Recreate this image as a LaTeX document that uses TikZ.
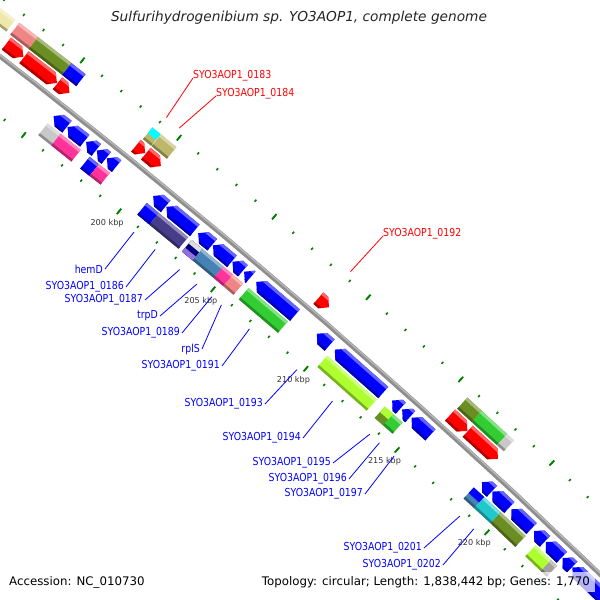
\documentclass[tikz,border=0pt]{standalone}
\usepackage{fontspec}
\setmainfont{DejaVu Sans}
\newfontfamily\genefont[FakeStretch=0.85]{DejaVu Sans}

\definecolor{cgred}{HTML}{FF0000}
\definecolor{cgblue}{HTML}{0000FF}
\definecolor{cgpink}{HTML}{FF3399}
\definecolor{cgsalmon}{HTML}{F08585}
\definecolor{cgolive}{HTML}{6B8E23}
\definecolor{cgkhaki}{HTML}{BDB76B}
\definecolor{cgyellow}{HTML}{EEE8AA}
\definecolor{cgsilver}{HTML}{C8C8C8}
\definecolor{cgslate}{HTML}{483D8B}
\definecolor{cgnavy}{HTML}{000080}
\definecolor{cgmpurple}{HTML}{9370DB}
\definecolor{cgsteel}{HTML}{4682B4}
\definecolor{cglime}{HTML}{32CD32}
\definecolor{cggy}{HTML}{ADFF2F}
\definecolor{cgcyan}{HTML}{00FFFF}
\definecolor{cgturq}{HTML}{20C8CC}
\definecolor{cggray}{HTML}{A0A0A0}
\definecolor{cgtick}{HTML}{007F00}

% point at position k (kbp) and offset d (px) from the backbone
\newcommand{\gpos}[2]{({(#1)*0.195818-90}:{7192.5+(#2)})}

\newcommand{\cogbox}[5]{%
  \fill[#5] \gpos{#1}{#3} -- \gpos{#2}{#3} -- \gpos{#2}{#4} -- \gpos{#1}{#4} -- cycle;
  \fill[#5!60!white] \gpos{#1}{#4-3} -- \gpos{#2}{#4-3} -- \gpos{#2}{#4} -- \gpos{#1}{#4} -- cycle;
  \fill[#5!70!black] \gpos{#1}{#3} -- \gpos{#2}{#3} -- \gpos{#2}{#3+2.5} -- \gpos{#1}{#3+2.5} -- cycle;}

\newcommand{\cogpart}[5]{%
  \fill[#5] \gpos{#1}{#3} -- \gpos{#2}{#3} -- \gpos{#2}{#4} -- \gpos{#1}{#4} -- cycle;}

\newcommand{\fwdgene}[2]{%
  \pgfmathsetmacro{\kn}{max(#1,#2-0.3)}%
  \pgfmathsetmacro{\ka}{\kn+0.4*(#2-\kn)}%
  \pgfmathsetmacro{\kb}{\kn+0.33*(#2-\kn)}%
  \fill[cgred] \gpos{#1}{6.5} -- \gpos{\kn}{6.5} -- \gpos{#2}{14} -- \gpos{\kn}{21.5} -- \gpos{#1}{21.5} -- cycle;
  \fill[cgred!60!white] \gpos{#1}{18.5} -- \gpos{\ka}{18.5} -- \gpos{\kn}{21.5} -- \gpos{#1}{21.5} -- cycle;
  \fill[cgred!70!black] \gpos{#1}{6.5} -- \gpos{\kn}{6.5} -- \gpos{\kb}{9} -- \gpos{#1}{9} -- cycle;}

\newcommand{\revgene}[2]{%
  \pgfmathsetmacro{\kn}{min(#2,#1+0.3)}%
  \pgfmathsetmacro{\ka}{\kn-0.4*(\kn-#1)}%
  \pgfmathsetmacro{\kb}{\kn-0.33*(\kn-#1)}%
  \fill[cgblue] \gpos{#2}{-21.5} -- \gpos{\kn}{-21.5} -- \gpos{#1}{-14} -- \gpos{\kn}{-6.5} -- \gpos{#2}{-6.5} -- cycle;
  \fill[cgblue!60!white] \gpos{#2}{-9.5} -- \gpos{\ka}{-9.5} -- \gpos{\kn}{-6.5} -- \gpos{#2}{-6.5} -- cycle;
  \fill[cgblue!70!black] \gpos{#2}{-21.5} -- \gpos{\kn}{-21.5} -- \gpos{\kb}{-19} -- \gpos{#2}{-19} -- cycle;}

\tikzset{
  backbone/.style={line width=4.6pt, draw={rgb,255:red,142;green,142;blue,142}},
  backbonehi/.style={line width=1.3pt, draw={rgb,255:red,185;green,185;blue,185}},
  dottick/.style={draw=cgtick, line width=1.6pt},
  kbptick/.style={draw=cgtick, line width=1.8pt},
  kbplabel/.style={font=\fontsize{8.1}{9}\selectfont, text=black!80, xshift=-2.5pt},
  revlabel/.style={font=\genefont\fontsize{11}{12}\selectfont, text=cgblue, anchor=east, inner xsep=2pt, inner ysep=0pt},
  fwdlabel/.style={font=\genefont\fontsize{11}{12}\selectfont, text=cgred, anchor=base west, inner sep=0pt},
  revline/.style={draw=cgblue, line width=0.8pt},
  fwdline/.style={draw=cgred, line width=0.8pt},
  footer/.style={font=\fontsize{11.8}{13}\selectfont, fill=white, fill opacity=0.7, text opacity=1, inner xsep=5pt, inner ysep=4pt}
}

\begin{document}
\begin{tikzpicture}[x=1pt,y=-1pt]
\useasboundingbox[fill=white] (0,0) rectangle (600,600);
\clip (0,0) rectangle (600,600);

\begin{scope}[shift={(-4393,5751)}]
% outer slot 2
\cogbox{188.5}{191.85}{23.5}{38.5}{cgyellow}
\cogbox{192.05}{193.0}{23.5}{38.5}{cgsalmon}
\cogbox{193.0}{194.72}{23.5}{38.5}{cgolive}
\cogbox{194.72}{195.45}{23.5}{38.5}{cgblue}
\cogbox{198.9}{199.33}{23.5}{38.5}{cgkhaki}
\cogpart{198.9}{199.33}{31}{38.5}{cgcyan}
\cogbox{199.35}{200.16}{23.5}{38.5}{cgkhaki}
\cogbox{215.69}{216.49}{23.5}{38.5}{cgolive}
\cogbox{216.49}{217.88}{23.5}{38.5}{cglime}
\cogbox{217.88}{218.25}{23.5}{38.5}{cgsilver}

% outer slot 1
\fwdgene{192.15}{193.02}
\fwdgene{193.05}{194.75}
\fwdgene{194.78}{195.4}
\fwdgene{198.85}{199.33}
\fwdgene{199.36}{200.16}
\fwdgene{208.5}{209.07}
\fwdgene{215.65}{216.6}
\fwdgene{216.62}{218.28}

% inner slot 1
\revgene{195.48}{196.17}
\revgene{196.2}{197.1}
\revgene{197.17}{197.7}
\revgene{197.73}{198.22}
\revgene{198.25}{198.76}
\revgene{200.68}{201.34}
\revgene{201.38}{202.88}
\revgene{203.06}{203.8}
\revgene{203.84}{204.85}
\revgene{204.88}{205.44}
\revgene{205.5}{205.85}
\revgene{206.15}{208.23}
\revgene{209.4}{210.1}
\revgene{210.38}{213.02}
\revgene{213.5}{213.97}
\revgene{214.05}{214.49}
\revgene{214.56}{215.6}
\revgene{218.45}{219.0}
\revgene{219.02}{219.97}
\revgene{220.08}{221.22}
\revgene{221.36}{221.97}
\revgene{222.02}{222.92}
\revgene{222.96}{223.5}
\revgene{223.52}{225.6}

% inner slot 2
\cogbox{195.47}{196.15}{-38.5}{-23.5}{cgsilver}
\cogbox{196.15}{197.2}{-38.5}{-23.5}{cgpink}
\cogbox{197.66}{198.15}{-38.5}{-23.5}{cgblue}
\cogbox{198.15}{198.72}{-38.5}{-23.5}{cgpink}
\cogbox{200.66}{201.3}{-38.5}{-23.5}{cgblue}
\cogbox{201.3}{202.85}{-38.5}{-23.5}{cgslate}
\cogbox{203.03}{203.6}{-38.5}{-23.5}{cgnavy}
\cogpart{203.03}{203.6}{-28}{-23.5}{cgsilver!60!white}
\cogpart{203.03}{203.6}{-38.5}{-33.5}{cgmpurple}
\cogbox{203.6}{204.72}{-38.5}{-23.5}{cgsteel}
\cogbox{204.72}{205.24}{-38.5}{-23.5}{cgpink}
\cogbox{205.24}{205.78}{-38.5}{-23.5}{cgsalmon}
\cogbox{206.07}{208.18}{-38.5}{-23.5}{cglime}
\cogbox{210.31}{213.0}{-38.5}{-23.5}{cggy}
\cogbox{213.45}{214.42}{-38.5}{-23.5}{cglime}
\cogpart{213.45}{213.9}{-31}{-23.5}{cggy}
\cogpart{213.45}{213.9}{-38.5}{-31}{cgolive}
\cogbox{218.35}{218.94}{-38.5}{-23.5}{cgsteel}
\cogpart{218.35}{218.94}{-31}{-23.5}{cgblue}
\cogbox{218.94}{219.85}{-38.5}{-23.5}{cgturq}
\cogbox{219.85}{221.25}{-38.5}{-23.5}{cgolive}
\cogbox{221.81}{222.68}{-38.5}{-23.5}{cggy}
\cogbox{222.68}{223.02}{-38.5}{-23.5}{cggray}

% backbone and ticks
\draw[backbone] plot[domain=186:230,samples=89] ({\x*0.195818-90}:7192.5);
\draw[backbonehi] plot[domain=186:230,samples=89] ({\x*0.195818-90}:7193.6);
\foreach \k in {188,...,229} {
  \draw[dottick] \gpos{\k}{46.2} -- \gpos{\k}{48.8};
  \draw[dottick] \gpos{\k}{-48.8} -- \gpos{\k}{-46.2};
}
\foreach \k in {190,195,...,225} {
  \draw[kbptick] \gpos{\k}{44} -- \gpos{\k}{51};
  \draw[kbptick] \gpos{\k}{-51} -- \gpos{\k}{-44};
}
\foreach \k in {200,205,...,220}
  \node[kbplabel] (k\k) at ({\k*0.195818-90}:7130) {\k\ kbp};

% label anchors on the genes
\path \gpos{199.09}{55} coordinate (g0183);
\path \gpos{199.76}{55} coordinate (g0184);
\path \gpos{208.78}{55} coordinate (g0192);
\path \gpos{201.01}{-54} coordinate (ghemD);
\path \gpos{202.13}{-54} coordinate (g0186);
\path \gpos{203.43}{-54} coordinate (g0187);
\path \gpos{204.35}{-54} coordinate (gtrpD);
\path \gpos{205.16}{-54} coordinate (g0189);
\path \gpos{205.67}{-54} coordinate (grplS);
\path \gpos{207.19}{-54} coordinate (g0191);
\path \gpos{209.75}{-54} coordinate (g0193);
\path \gpos{211.7}{-54} coordinate (g0194);
\path \gpos{213.74}{-54} coordinate (g0195);
\path \gpos{214.27}{-54} coordinate (g0196);
\path \gpos{215.08}{-54} coordinate (g0197);
\path \gpos{218.73}{-54} coordinate (g0201);
\path \gpos{219.5}{-54} coordinate (g0202);
\end{scope}

\node[fwdlabel] (l0183) at (193,78) {SYO3AOP1\_0183};
\node[fwdlabel] (l0184) at (216,96) {SYO3AOP1\_0184};
\node[fwdlabel] (l0192) at (383,236) {SYO3AOP1\_0192};
\draw[fwdline] (g0183) -- (l0183.base west);
\draw[fwdline] (g0184) -- (l0184.base west);
\draw[fwdline] (g0192) -- (l0192.base west);

\node[revlabel] (lhemD) at (105,269) {hemD};
\node[revlabel] (l0186) at (126,287) {SYO3AOP1\_0186};
\node[revlabel] (l0187) at (145,300) {SYO3AOP1\_0187};
\node[revlabel] (ltrpD) at (160,316) {trpD};
\node[revlabel] (l0189) at (182,333) {SYO3AOP1\_0189};
\node[revlabel] (lrplS) at (202,349) {rplS};
\node[revlabel] (l0191) at (222,366) {SYO3AOP1\_0191};
\node[revlabel] (l0193) at (265,404) {SYO3AOP1\_0193};
\node[revlabel] (l0194) at (303,438) {SYO3AOP1\_0194};
\node[revlabel] (l0195) at (333,463) {SYO3AOP1\_0195};
\node[revlabel] (l0196) at (349,479) {SYO3AOP1\_0196};
\node[revlabel] (l0197) at (365,494) {SYO3AOP1\_0197};
\node[revlabel] (l0201) at (424,548) {SYO3AOP1\_0201};
\node[revlabel] (l0202) at (443,565) {SYO3AOP1\_0202};
\foreach \g in {hemD,0186,0187,trpD,0189,rplS,0191,0193,0194,0195,0196,0197,0201,0202}
  \draw[revline] (g\g) -- (l\g.east);

\node[font=\itshape\fontsize{13.7}{15}\selectfont, text=black!85] (title) at (299,18) {Sulfurihydrogenibium sp. YO3AOP1, complete genome};
\node[footer, anchor=west] (accession) at (4,582) {Accession: NC\_010730};
\node[footer, anchor=east] (topology) at (595,582) {Topology: circular; Length: 1,838,442 bp; Genes: 1,770};
\end{tikzpicture}
\end{document}
